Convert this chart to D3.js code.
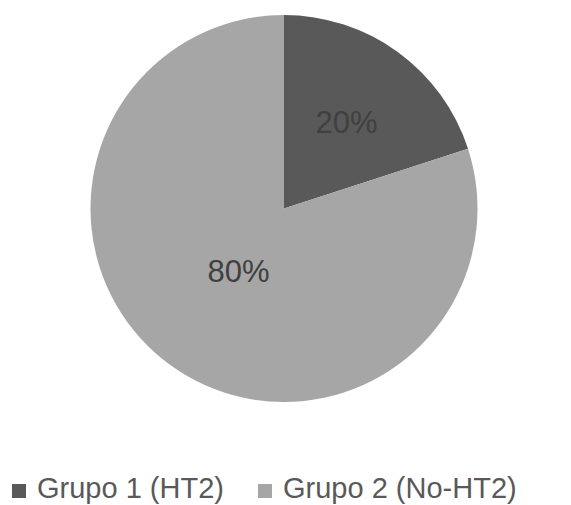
<!DOCTYPE html>
<html>
<head>
<meta charset="utf-8">
<script src="https://cdn.jsdelivr.net/npm/d3@7"></script>
<style>
  html, body { margin: 0; padding: 0; background: #fff; }
  svg { display: block; }
</style>
</head>
<body>
<svg id="chart" width="571" height="505"></svg>
<script>
const categories = ["Grupo 1 (HT2)", "Grupo 2 (No-HT2)"];
const values = [20, 80];
const labels = ["20%", "80%"];
const colors = ["#595959", "#a6a6a6"];

const W = 571, H = 505;
const cx = 284, cy = 208.5, R = 193.5;
const labelFrac = [0.55, 0.40];

const svg = d3.select("#chart");
const g = svg.append("g").attr("transform", `translate(${cx},${cy})`);

const pie = d3.pie().sort(null).value(d => d)(values);
const arc = d3.arc().innerRadius(0).outerRadius(R);

g.selectAll("path.slice").data(pie).enter().append("path")
  .attr("class", "slice")
  .attr("d", arc)
  .attr("fill", (d, i) => colors[i])
  .attr("stroke", "none");

g.selectAll("text.lbl").data(pie).enter().append("text")
  .attr("class", "lbl")
  .attr("transform", (d, i) => {
    const r = R * labelFrac[i];
    const c = d3.arc().innerRadius(r).outerRadius(r).centroid(d);
    return `translate(${c[0]},${c[1]})`;
  })
  .attr("text-anchor", "middle")
  .attr("dominant-baseline", "central")
  .attr("font-family", "'Liberation Sans', Arial, sans-serif")
  .attr("font-size", 31)
  .attr("fill", "#404040")
  .text((d, i) => labels[i]);

// Legend
const legendX = [12, 258];
const legend = svg.append("g");
categories.forEach((c, i) => {
  legend.append("rect")
    .attr("x", legendX[i]).attr("y", 484)
    .attr("width", 14).attr("height", 14)
    .attr("fill", colors[i]);
  legend.append("text")
    .attr("x", legendX[i] + 25).attr("y", 498)
    .attr("font-family", "'Liberation Sans', Arial, sans-serif")
    .attr("font-size", 29)
    .attr("fill", "#595959")
    .text(c);
});
</script>
</body>
</html>
